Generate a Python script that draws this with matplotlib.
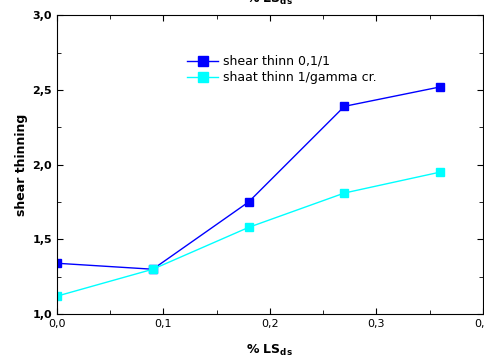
import numpy as np
import matplotlib
matplotlib.use("Agg")
import matplotlib.pyplot as plt
from matplotlib.ticker import MultipleLocator

x = [0.0, 0.09, 0.18, 0.27, 0.36]
shear_01 = [1.34, 1.30, 1.75, 2.39, 2.52]
shear_gamma = [1.12, 1.30, 1.58, 1.81, 1.95]

fig = plt.figure(figsize=(4.85, 3.61), dpi=100)
ax = fig.add_axes([0.1175, 0.130, 0.878, 0.828])

ax.plot(x, shear_01, color='#0000ff', marker='s', markersize=6, lw=1.0, label='shear thinn 0,1/1')
ax.plot(x, shear_gamma, color='#00ffff', marker='s', markersize=6, lw=1.0, label='shaat thinn 1/gamma cr.')

ax.set_xlim(0, 0.4)
ax.set_ylim(1.0, 3.0)
ax.xaxis.set_major_locator(MultipleLocator(0.1))
ax.xaxis.set_minor_locator(MultipleLocator(0.05))
ax.yaxis.set_major_locator(MultipleLocator(0.5))
ax.yaxis.set_minor_locator(MultipleLocator(0.25))

def comma(v, pos):
    return ("%.1f" % v).replace('.', ',')

ax.xaxis.set_major_formatter(plt.FuncFormatter(comma))
ax.yaxis.set_major_formatter(plt.FuncFormatter(comma))
ax.tick_params(which='both', direction='in', top=True, right=True, labelsize=8)
ax.tick_params(which='major', length=4)
ax.tick_params(which='minor', length=3)
for lab in ax.get_yticklabels():
    lab.set_fontweight('bold')

ax.set_xlabel(r'% $\mathbf{LS_{ds}}$', fontsize=9, fontweight='bold', labelpad=10)
ax.set_ylabel('shear thinning', fontsize=9, fontweight='bold', labelpad=3)
ax.set_title(r'% $\mathbf{LS_{ds}}$', fontsize=9, fontweight='bold', pad=9)

ax.legend(loc='upper left', bbox_to_anchor=(0.291, 0.888), frameon=False, fontsize=9,
          handlelength=2.5, handletextpad=0.4, labelspacing=0.25, borderpad=0,
          markerscale=1.3)

fig.savefig('out.png', dpi=100)
